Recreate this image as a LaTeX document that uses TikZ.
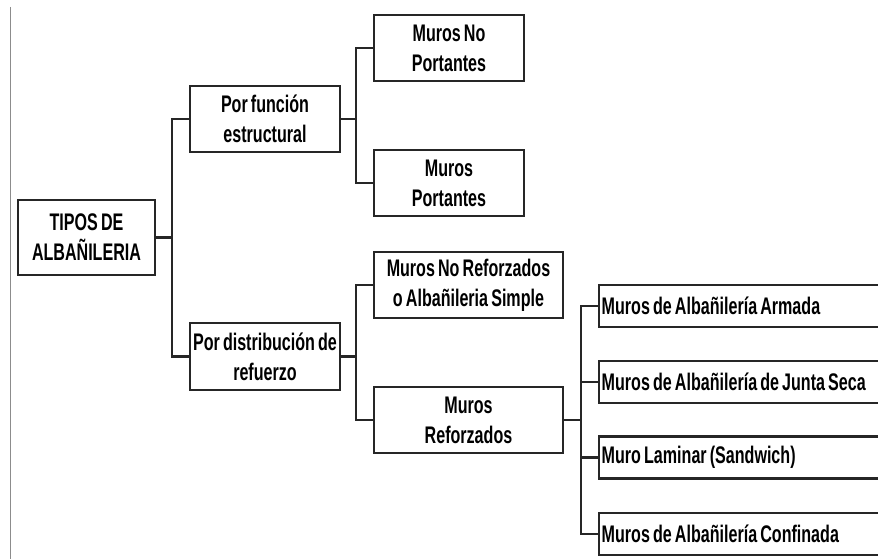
\documentclass[tikz,border=0pt]{standalone}
\usepackage{fontspec}
\setmainfont{Liberation Sans}[FakeStretch=0.67, WordSpace=0.7]
\usepackage{tikz}

\begin{document}
\begin{tikzpicture}[x=0.75pt,y=0.75pt,yscale=-1,xscale=1,
  box/.style={draw=black!85, line width=1.6, inner sep=0.75pt, align=center, font=\fontsize{18}{22.5}\selectfont\bfseries},
  wide/.style={box, anchor=west, align=flush left, inner sep=2pt, text width=215pt, minimum height=31.5pt},
  link/.style={draw=black!85, line width=1.6}]

\useasboundingbox (0,0) rectangle (878,559);
\clip (0,0) rectangle (878,559);

\draw [black!45, line width=0.6] (10,7) -- (10,559) ;

\node (root) [box, minimum width=102.75pt, minimum height=56.25pt] at (86.5,237.5) {TIPOS DE\\ALBAÑILERIA};

\node (fun) [box, minimum width=112.5pt, minimum height=49.5pt] at (265,119) {Por función\\estructural};
\node (dist) [box, minimum width=112.5pt, minimum height=50.25pt] at (265,356.5) {Por distribución de\\refuerzo};

\node (noport) [box, minimum width=112.5pt, minimum height=49.5pt] at (449,48) {Muros No\\Portantes};
\node (port) [box, minimum width=112.5pt, minimum height=49.5pt] at (449,183) {Muros\\Portantes};

\node (simple) [box, minimum width=141.75pt, minimum height=49.5pt] at (468.5,285) {Muros No Reforzados\\o Albañileria Simple};
\node (refor) [box, minimum width=141.75pt, minimum height=49.5pt] at (468.5,420) {Muros\\Reforzados};

\node (armada) [wide] at (598,306) {Muros de Albañilería Armada};
\node (seca) [wide] at (598,382) {Muros de Albañilería de Junta Seca};
\node (laminar) [wide] at (598,457.5) {Muro Laminar (Sandwich)};
\node (confin) [wide] at (598,534) {Muros de Albañilería Confinada};

% ramas
\draw [link] (root.east) -- ++(16,0) coordinate (jroot) ;
\draw [link] (jroot) |- (fun.west) ;
\draw [link] (jroot) |- (dist.west) ;

\draw [link] (fun.east) -- ++(15,0) coordinate (jfun) ;
\draw [link] (jfun) |- (noport.west) ;
\draw [link] (jfun) |- (port.west) ;

\draw [link] (dist.east) -- ++(15,0) coordinate (jdist) ;
\draw [link] (jdist) |- (simple.west) ;
\draw [link] (jdist) |- (refor.west) ;

\draw [link] (refor.east) -- ++(17,0) coordinate (jref) ;
\draw [link] (jref) |- (armada.west) ;
\draw [link] (jref) |- (seca.west) ;
\draw [link] (jref) |- (laminar.west) ;
\draw [link] (jref) |- (confin.west) ;

\end{tikzpicture}
\end{document}
